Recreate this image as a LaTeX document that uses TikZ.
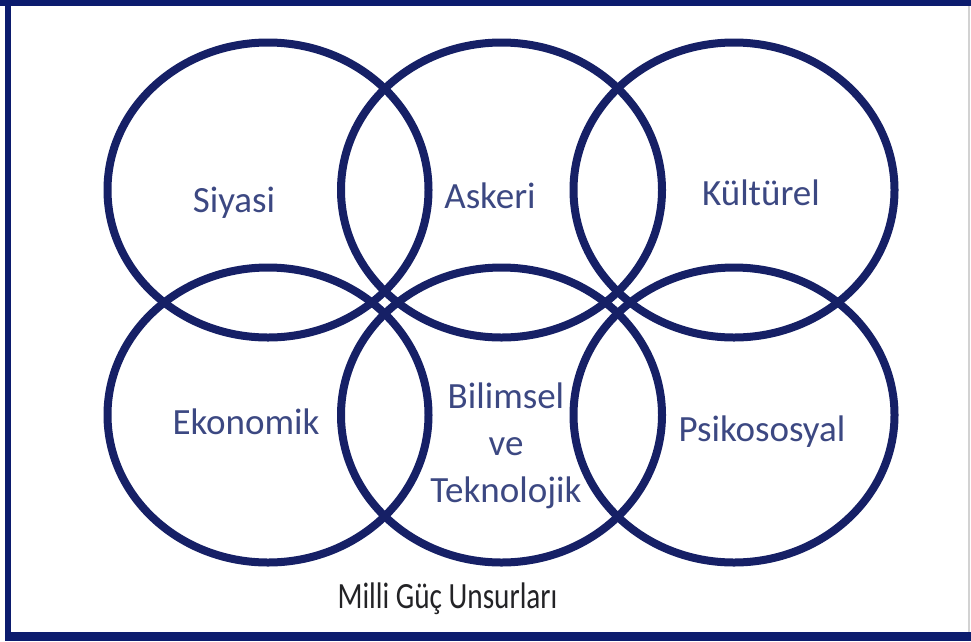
\documentclass[tikz,border=0pt]{standalone}
\usepackage{fontspec}
\setmainfont{Carlito}
\usetikzlibrary{shapes.geometric}
\definecolor{ringcol}{RGB}{22,32,102}
\definecolor{framecol}{RGB}{12,28,110}
\definecolor{labcol}{RGB}{60,72,130}
\definecolor{titcol}{RGB}{35,35,38}
\begin{document}
\begin{tikzpicture}[x=1pt,y=-1pt,
  ring/.style={ellipse, draw=ringcol, line width=8pt, minimum width=321pt, minimum height=295pt, inner sep=0pt},
  lab/.style={text=labcol, font=\fontsize{37}{47}\selectfont, inner sep=0pt, anchor=base},
  tit/.style={text=titcol, font=\fontsize{37}{44}\selectfont, inner sep=0pt, anchor=base}]
\fill[white] (0,0) rectangle (971,641);
\useasboundingbox (0,0) rectangle (971,641);
% frame
\fill[framecol] (0,0) rectangle (971,6);
\fill[framecol] (5,0) rectangle (11,641);
\fill[framecol] (5,632) rectangle (971,641);
\draw[gray!35, line width=1.5pt] (969,6) -- (969,632);
% rings
\node[ring] (c1) at (268,190) {};
\node[ring] (c2) at (501.5,190) {};
\node[ring] (c3) at (734,190) {};
\node[ring] (c4) at (268,415) {};
\node[ring] (c5) at (501.5,415) {};
\node[ring] (c6) at (734,415) {};
% labels
\node[lab] (t1) at (234,212) {Siyasi};
\node[lab] (t2) at (490,208) {Askeri};
\node[lab] (t3) at (761,205) {Kültürel};
\node[lab] (t4) at (246,434) {Ekonomik};
\node[lab, align=center, anchor=center] (t5) at (506,446) {Bilimsel\\ve\\Teknolojik};
\node[lab] (t6) at (762,441) {Psikososyal};
\node[tit] (title) at (447.5,608) {\scalebox{0.79}[1]{Milli Güç Unsurları}};
\end{tikzpicture}
\end{document}
